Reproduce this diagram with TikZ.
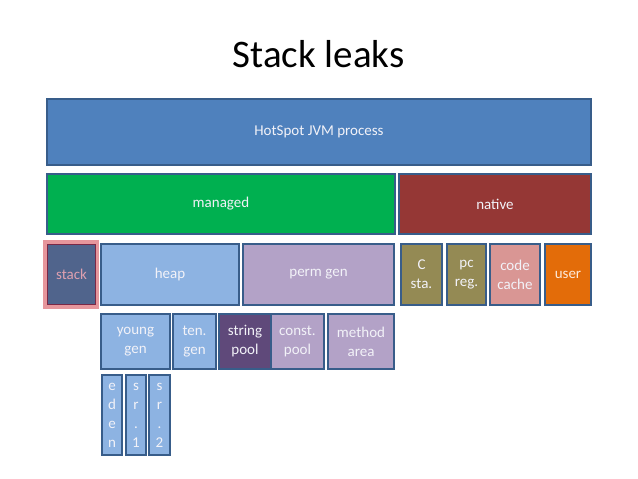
\documentclass[tikz,border=0pt]{standalone}
\usepackage{fontspec}
\setmainfont{Carlito}
\definecolor{bordc}{RGB}{56,93,138}
\definecolor{procc}{RGB}{79,129,189}
\definecolor{mangc}{RGB}{0,176,80}
\definecolor{natc}{RGB}{149,55,53}
\definecolor{stackc}{RGB}{80,100,140}
\definecolor{stackbord}{RGB}{122,40,70}
\definecolor{pinkc}{RGB}{230,150,156}
\definecolor{stacktxt}{RGB}{222,160,176}
\definecolor{heapc}{RGB}{141,179,226}
\definecolor{permc}{RGB}{179,162,199}
\definecolor{olivec}{RGB}{148,138,84}
\definecolor{codec}{RGB}{217,150,148}
\definecolor{userc}{RGB}{227,108,9}
\definecolor{strc}{RGB}{95,73,122}
\definecolor{txtc}{RGB}{242,242,248}
\begin{document}
\begin{tikzpicture}[x=1pt,y=-1pt,
  box/.style={draw=bordc, line width=1.4pt, inner sep=0pt, outer sep=0pt,
    text=txtc, align=center, font=\fontsize{15}{19}\selectfont},
  title/.style={font=\fontsize{39}{47}\selectfont, text=black, inner sep=0pt}]
\useasboundingbox (0,0) rectangle (638,479);
\node[title, anchor=base] (t) at (318.5,67) {Stack leaks};
% level 1
\node[box, fill=procc, minimum width=544pt, minimum height=66pt] (proc) at (319,132) {HotSpot JVM process};
% level 2
\node[box, fill=mangc, minimum width=348pt, minimum height=60pt] (managed) at (221,204) {managed};
\node[box, fill=natc, minimum width=192pt, minimum height=60pt] (native) at (495,204) {native};
% level 3
\node[fill=pinkc, inner sep=0pt, minimum width=56pt, minimum height=69pt] (hl) at (71,274.5) {};
\node[box, draw=stackbord, fill=stackc, text=stacktxt, minimum width=48pt, minimum height=60pt] (stack) at (71.5,274.5) {stack};
\node[box, fill=heapc, minimum width=138pt, minimum height=61pt] (heap) at (170,274.5) {heap};
\node[box, fill=permc, minimum width=151pt, minimum height=61pt] (perm) at (318.5,274.5) {perm gen};
\node[box, fill=olivec, minimum width=41pt, minimum height=61pt] (csta) at (421.5,274.5) {C\\sta.};
\node[box, fill=olivec, minimum width=39pt, minimum height=61pt] (pcreg) at (466.5,274.5) {pc\\reg.};
\node[box, fill=codec, minimum width=50pt, minimum height=61pt] (code) at (515,274.5) {code\\cache};
\node[box, fill=userc, text={rgb,255:red,253;green,233;blue,217}, minimum width=46pt, minimum height=61pt] (user) at (568,274.5) {user};
% level 4
\node[box, fill=heapc, minimum width=69pt, minimum height=55pt] (young) at (135.5,341.5) {young\\gen};
\node[box, fill=heapc, minimum width=43pt, minimum height=55pt] (ten) at (194.5,341.5) {ten.\\gen};
\node[box, fill=strc, minimum width=52pt, minimum height=55pt] (string) at (245,341.5) {string\\pool};
\node[box, fill=permc, minimum width=53pt, minimum height=55pt] (const) at (297.5,341.5) {const.\\pool};
\node[box, fill=permc, minimum width=66pt, minimum height=55pt] (method) at (361,341.5) {method\\area};
% level 5
\node[box, fill=heapc, minimum width=20pt, minimum height=80pt] (eden) at (112,415) {e\\d\\e\\n};
\node[box, fill=heapc, minimum width=20pt, minimum height=80pt] (sr1) at (136,415) {s\\r\\.\\1};
\node[box, fill=heapc, minimum width=21pt, minimum height=80pt] (sr2) at (159.5,415) {s\\r\\.\\2};
\end{tikzpicture}
\end{document}
